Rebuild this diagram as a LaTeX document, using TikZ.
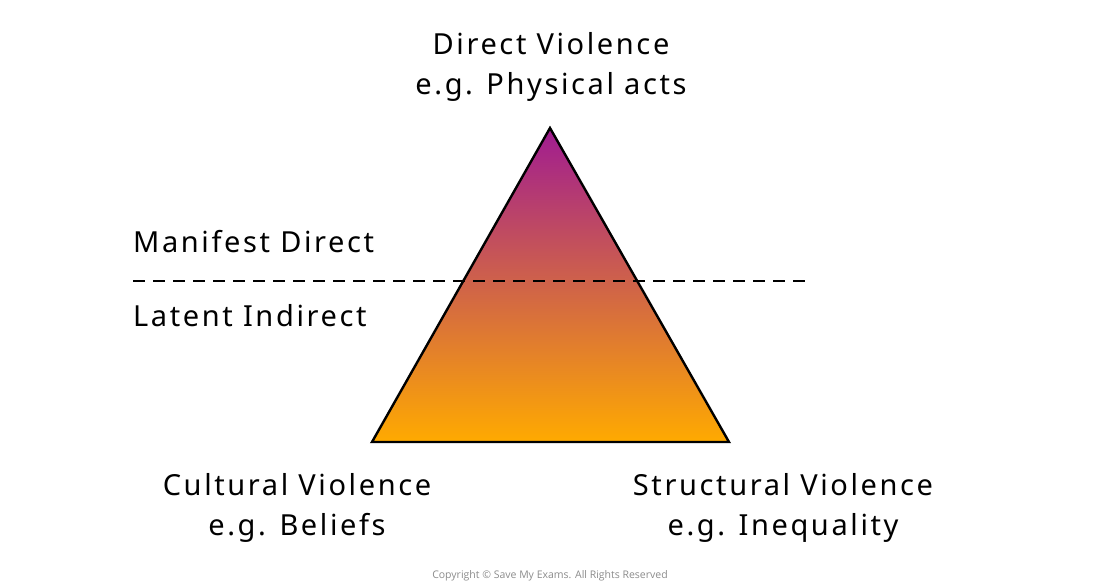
\documentclass[tikz,border=0pt]{standalone}
\usepackage{fontspec}
\setmainfont{Noto Sans}[LetterSpace=9]
\newfontfamily\copyfont{Open Sans}
\begin{document}
\begin{tikzpicture}[x=1pt,y=-1pt,
  lbl/.style={font=\fontsize{29}{40}\selectfont, inner sep=0pt, align=center},
  tri/.style={draw=black, line width=2.4pt, line join=miter, top color=topc, bottom color=botc},
  divider/.style={draw=black, line width=2pt, dash pattern=on 12pt off 8pt}]
\definecolor{topc}{RGB}{160,28,145}
\definecolor{botc}{RGB}{255,170,0}
\useasboundingbox (0,0) rectangle (1100,587);
\fill[white] (0,0) rectangle (1100,587);
\coordinate (apex) at (550,128);
\coordinate (bl) at (372,442);
\coordinate (br) at (729,442);
\path[tri] (apex) -- (bl) -- (br) -- cycle;
\coordinate (dl) at (133,281);
\coordinate (dr) at (805,281);
\draw[divider] (dl) -- (dr);
\node[lbl] (top) at (551,67) {Direct Violence\\e.g. Physical acts};
\node[lbl, anchor=west] (man) at (133,242) {Manifest Direct};
\node[lbl, anchor=west] (lat) at (133,316) {Latent Indirect};
\node[lbl] (cul) at (297,508) {Cultural Violence\\e.g. Beliefs};
\node[lbl] (str) at (783,508) {Structural Violence\\e.g. Inequality};
\node[font=\copyfont\fontsize{10.5}{12}\selectfont, text=black!45] (copy) at (550,576) {Copyright © Save My Exams. All Rights Reserved};
\end{tikzpicture}
\end{document}
